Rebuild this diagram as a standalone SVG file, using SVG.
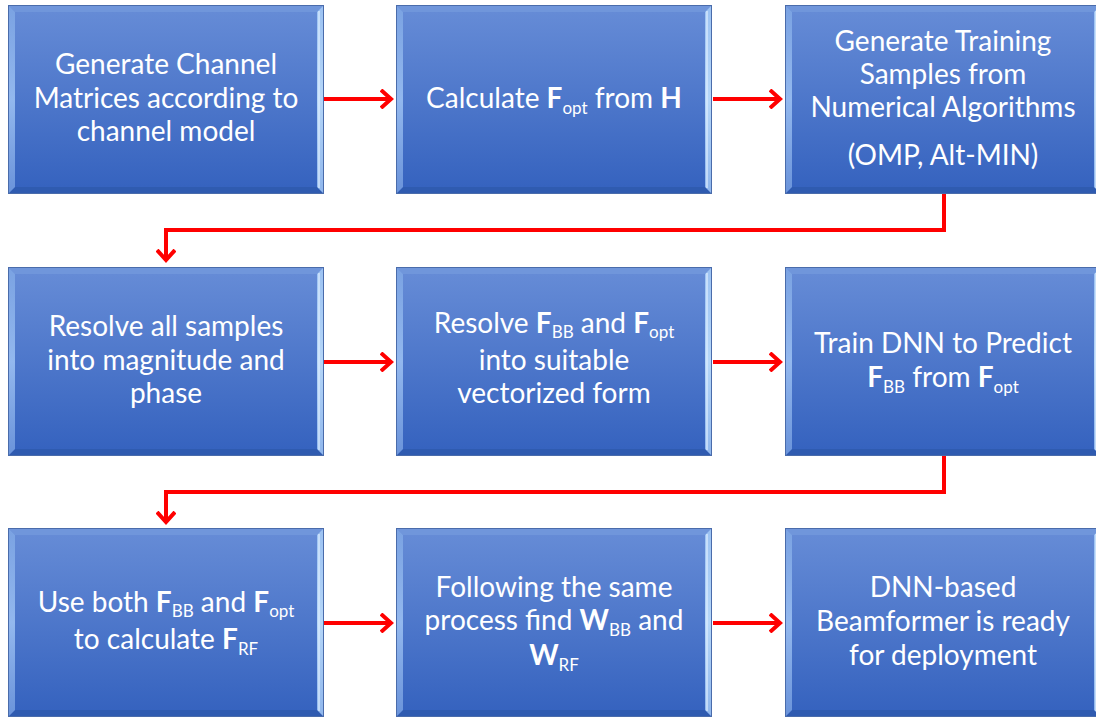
<svg xmlns="http://www.w3.org/2000/svg" xmlns:xlink="http://www.w3.org/1999/xlink" width="1096" height="720" viewBox="0 0 1096 720">
<style>
.t{font-family:Lato,"Open Sans","Liberation Sans",sans-serif;font-size:28px;fill:#ffffff;text-anchor:middle}
.b{font-weight:bold}
.s{font-size:17px}
.c{fill:none;stroke:#ff0000;stroke-width:4;stroke-linejoin:miter}
</style>
<defs>
<linearGradient id="body" x1="0" y1="0" x2="0" y2="1">
<stop offset="0" stop-color="#658bd6"/>
<stop offset="1" stop-color="#3663bf"/>
</linearGradient>
<linearGradient id="lft" x1="0" y1="0" x2="0" y2="1">
<stop offset="0" stop-color="#7aa2e2"/>
<stop offset="0.5" stop-color="#93b8ee"/>
<stop offset="1" stop-color="#6a93da"/>
</linearGradient>
<linearGradient id="rgt" x1="0" y1="0" x2="0" y2="1">
<stop offset="0" stop-color="#9cc2f2"/>
<stop offset="0.5" stop-color="#b5d6f8"/>
<stop offset="1" stop-color="#8fb6ec"/>
</linearGradient>
<symbol id="box" width="316" height="189" viewBox="0 0 316 189" overflow="visible">
<rect x="0" y="0" width="316" height="189" fill="url(#body)"/>
<polygon points="0,0 316,0 309,7 7,7" fill="#7096db"/>
<polygon points="0,189 316,189 309,182 7,182" fill="#2f5bb0"/>
<polygon points="0,0 7,7 7,182 0,189" fill="url(#lft)"/>
<polygon points="316,0 309,7 309,182 316,189" fill="url(#rgt)"/>
<line x1="311" y1="6" x2="311" y2="183" stroke="#e2f0ff" stroke-width="1.2"/>
<rect x="7" y="7" width="302" height="175" fill="url(#body)"/>
<rect x="0.5" y="0.5" width="315" height="188" fill="none" stroke="#4a6cab" stroke-width="1"/>
</symbol>
<marker id="ah" markerWidth="14" markerHeight="20" refX="11" refY="10" orient="auto" markerUnits="userSpaceOnUse">
<polyline points="1,1 11,10 1,19" fill="none" stroke="#ff0000" stroke-width="4"/>
</marker>
</defs>
<rect width="1096" height="720" fill="#ffffff"/>

<g id="connectors">
<line class="c" x1="324" y1="99" x2="391" y2="99" marker-end="url(#ah)"/>
<line class="c" x1="713" y1="99" x2="780" y2="99" marker-end="url(#ah)"/>
<polyline class="c" points="944,194 944,230 166,230 166,260" marker-end="url(#ah)"/>
<line class="c" x1="324" y1="362" x2="391" y2="362" marker-end="url(#ah)"/>
<line class="c" x1="713" y1="362" x2="780" y2="362" marker-end="url(#ah)"/>
<polyline class="c" points="944,456 944,492 166,492 166,522" marker-end="url(#ah)"/>
<line class="c" x1="324" y1="623" x2="391" y2="623" marker-end="url(#ah)"/>
<line class="c" x1="713" y1="623" x2="780" y2="623" marker-end="url(#ah)"/>
</g>

<g id="n1">
<use xlink:href="#box" x="8" y="5"/>
<text class="t" x="166" y="74">Generate Channel</text>
<text class="t" x="166" y="108">Matrices according to</text>
<text class="t" x="166" y="141">channel model</text>
</g>
<g id="n2">
<use xlink:href="#box" x="396" y="5"/>
<text class="t" x="554" y="108">Calculate <tspan class="b">F</tspan><tspan class="s" dy="6">opt</tspan><tspan dy="-6"> from </tspan><tspan class="b">H</tspan></text>
</g>
<g id="n3">
<use xlink:href="#box" x="785" y="5"/>
<text class="t" x="943" y="51">Generate Training</text>
<text class="t" x="943" y="84">Samples from</text>
<text class="t" x="943" y="117">Numerical Algorithms</text>
<text class="t" x="943" y="165">(OMP, Alt-MIN)</text>
</g>
<g id="n4">
<use xlink:href="#box" x="8" y="267"/>
<text class="t" x="166" y="336">Resolve all samples</text>
<text class="t" x="166" y="370">into magnitude and</text>
<text class="t" x="166" y="403">phase</text>
</g>
<g id="n5">
<use xlink:href="#box" x="396" y="267"/>
<text class="t" x="554" y="333">Resolve <tspan class="b">F</tspan><tspan class="s" dy="5">BB</tspan><tspan dy="-5"> and </tspan><tspan class="b">F</tspan><tspan class="s" dy="5">opt</tspan></text>
<text class="t" x="554" y="370">into suitable</text>
<text class="t" x="554" y="403">vectorized form</text>
</g>
<g id="n6">
<use xlink:href="#box" x="785" y="267"/>
<text class="t" x="943" y="353">Train DNN to Predict</text>
<text class="t" x="943" y="387"><tspan class="b">F</tspan><tspan class="s" dy="6">BB</tspan><tspan dy="-6"> from </tspan><tspan class="b">F</tspan><tspan class="s" dy="6">opt</tspan></text>
</g>
<g id="n7">
<use xlink:href="#box" x="8" y="528"/>
<text class="t" x="166" y="612">Use both <tspan class="b">F</tspan><tspan class="s" dy="5">BB</tspan><tspan dy="-5"> and </tspan><tspan class="b">F</tspan><tspan class="s" dy="5">opt</tspan></text>
<text class="t" x="166" y="649">to calculate <tspan class="b">F</tspan><tspan class="s" dy="6">RF</tspan></text>
</g>
<g id="n8">
<use xlink:href="#box" x="396" y="528"/>
<text class="t" x="554" y="597">Following the same</text>
<text class="t" x="554" y="630">process find <tspan class="b">W</tspan><tspan class="s" dy="6">BB</tspan><tspan dy="-6"> and</tspan></text>
<text class="t" x="554" y="665"><tspan class="b">W</tspan><tspan class="s" dy="6">RF</tspan></text>
</g>
<g id="n9">
<use xlink:href="#box" x="785" y="528"/>
<text class="t" x="943" y="597">DNN-based</text>
<text class="t" x="943" y="631">Beamformer is ready</text>
<text class="t" x="943" y="665">for deployment</text>
</g>
</svg>
